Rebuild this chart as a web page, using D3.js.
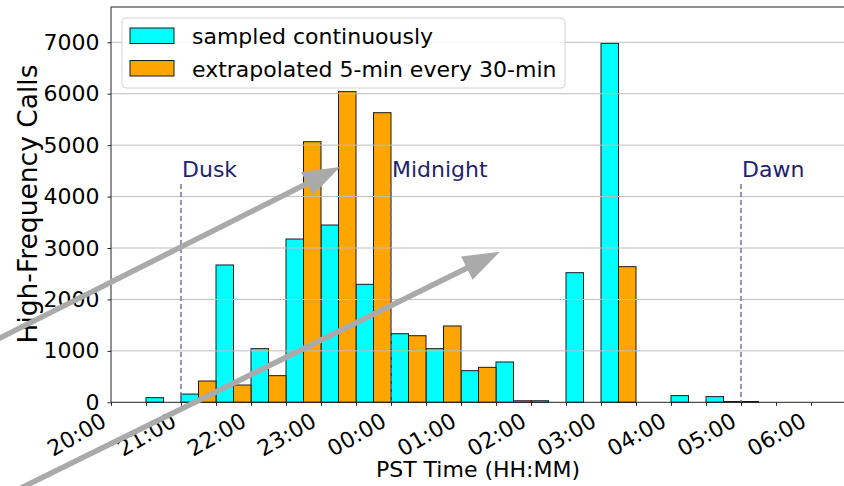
<!DOCTYPE html>
<html>
<head>
<meta charset="utf-8">
<script src="https://cdn.jsdelivr.net/npm/d3@7"></script>
<style>
  html, body { margin: 0; padding: 0; background: #fff; }
  svg { display: block; font-family: "DejaVu Sans", sans-serif; }
</style>
</head>
<body>
<svg id="chart" width="844" height="486"></svg>
<script>
// 30-minute bins starting at 20:00 PST (minutes after 20:00)
const binStarts = d3.range(0, 600, 30);
const binLabels = ["20:00","20:30","21:00","21:30","22:00","22:30","23:00","23:30",
                   "00:00","00:30","01:00","01:30","02:00","02:30","03:00","03:30",
                   "04:00","04:30","05:00","05:30"];
// High-frequency call counts per bin
const sampledContinuously = [0, 90, 160, 2670, 1043, 3175, 3447, 2294, 1334, 1043,
                             615, 784, 30, 2520, 6980, 0, 130, 110, 15, 0];
const extrapolated = [0, 0, 414, 336, 518, 5067, 6040, 5631, 1295, 1484,
                      680, 30, 0, 0, 2637, 0, 0, 15, 0, 0];
const seriesNames = ["sampled continuously", "extrapolated 5-min every 30-min"];
const seriesColors = ["#00ffff", "#ffa500"];

// Hour tick labels
const hourTicks = d3.range(0, 601, 60);
const hourLabels = ["20:00","21:00","22:00","23:00","00:00","01:00","02:00",
                    "03:00","04:00","05:00","06:00"];
const halfHourTicks = d3.range(0, 631, 30);
const yTicks = d3.range(0, 7001, 1000);

// Event markers
const markers = [
  { name: "Dusk", t: 60 },
  { name: "Midnight", t: 240 },
  { name: "Dawn", t: 540 }
];
const markerTop = 4245;

const FS = 22;
const svg = d3.select("#chart");
const mLeft = 111, mTop = 7, mBottom = 402.3, mRight = 870;

const x = d3.scaleLinear().domain([0, 600]).range([mLeft, 811]);
const y = d3.scaleLinear().domain([0, 7686]).range([mBottom, mTop]);

const plot = svg.append("g");

// Bars: sampled on the first half of each bin, extrapolated on the second half
const series = [sampledContinuously, extrapolated];
series.forEach((vals, s) => {
  plot.append("g").selectAll("rect")
    .data(vals.map((v, i) => ({ t: binStarts[i], v })))
    .join("rect")
    .attr("x", d => x(d.t + 15 * s))
    .attr("width", d => x(d.t + 15 * (s + 1)) - x(d.t + 15 * s))
    .attr("y", d => y(d.v))
    .attr("height", d => y(0) - y(d.v))
    .attr("fill", seriesColors[s])
    .attr("stroke", "#1a1a1a")
    .attr("stroke-width", 1);
});

// Horizontal grid
plot.append("g").selectAll("line")
  .data(yTicks.slice(1))
  .join("line")
  .attr("x1", mLeft).attr("x2", mRight)
  .attr("y1", d => y(d)).attr("y2", d => y(d))
  .attr("stroke", "#bdbdbd").attr("stroke-width", 1);

// Dusk / Midnight / Dawn markers
markers.forEach(m => {
  plot.append("line")
    .attr("x1", x(m.t)).attr("x2", x(m.t))
    .attr("y1", y(markerTop)).attr("y2", y(0))
    .attr("stroke", "#7272ad").attr("stroke-width", 1.5)
    .attr("stroke-dasharray", "5,3");
  plot.append("text")
    .attr("x", x(m.t) + 1).attr("y", y(markerTop) - 7)
    .attr("fill", "#1f1f6e").attr("font-size", FS)
    .text(m.name);
});

// Spines
svg.append("line").attr("x1", mLeft).attr("x2", mRight).attr("y1", mTop).attr("y2", mTop)
  .attr("stroke", "#222").attr("stroke-width", 1);
svg.append("line").attr("x1", mLeft).attr("x2", mLeft).attr("y1", mTop).attr("y2", mBottom)
  .attr("stroke", "#222").attr("stroke-width", 1);
svg.append("line").attr("x1", mLeft).attr("x2", mRight).attr("y1", mBottom).attr("y2", mBottom)
  .attr("stroke", "#222").attr("stroke-width", 1);

// Y axis
const yAxis = svg.append("g").attr("transform", `translate(${mLeft},0)`)
  .call(d3.axisLeft(y).tickValues(yTicks).tickSize(3.5).tickPadding(8).tickFormat(d3.format("d")));
yAxis.select(".domain").remove();
yAxis.selectAll("text").attr("font-size", FS).attr("font-family", "DejaVu Sans").attr("fill", "#000");
yAxis.selectAll("line").attr("stroke", "#222");

// X axis: ticks every half hour, labels on the hour
const xAxis = svg.append("g").attr("transform", `translate(0,${mBottom})`)
  .call(d3.axisBottom(x).tickValues(halfHourTicks).tickSize(3.5).tickFormat(""));
xAxis.select(".domain").remove();
xAxis.selectAll("line").attr("stroke", "#222");

svg.append("g").selectAll("text")
  .data(hourTicks)
  .join("text")
  .attr("transform", (d) => `translate(${x(d) - 3},${mBottom + 23}) rotate(-30)`)
  .attr("text-anchor", "end")
  .attr("font-size", FS)
  .attr("fill", "#000")
  .text((d, i) => hourLabels[i]);

// Axis titles
svg.append("text")
  .attr("x", 478).attr("y", 477)
  .attr("text-anchor", "middle").attr("font-size", FS)
  .text("PST Time (HH:MM)");
svg.append("text")
  .attr("transform", `translate(37,204) rotate(-90)`)
  .attr("text-anchor", "middle").attr("font-size", 26.5)
  .text("High-Frequency Calls");

// Legend
const legend = svg.append("g");
legend.append("rect")
  .attr("x", 122).attr("y", 18).attr("width", 443).attr("height", 70)
  .attr("rx", 4).attr("fill", "#fff").attr("fill-opacity", 0.85)
  .attr("stroke", "#d4d4d4");
seriesNames.forEach((name, i) => {
  const cy = 36 + i * 32.5;
  legend.append("rect")
    .attr("x", 130).attr("y", cy - 8).attr("width", 44).attr("height", 15.5)
    .attr("fill", seriesColors[i]).attr("stroke", "#1a1a1a");
  legend.append("text")
    .attr("x", 192).attr("y", cy + 8)
    .attr("font-size", FS).attr("fill", "#000")
    .text(name);
});

// Gray annotation arrows
const arrows = [
  { x1: -10, y1: 343, x2: 340, y2: 167 },
  { x1: 17, y1: 490, x2: 500, y2: 251.7 }
];
arrows.forEach(a => {
  const dx = a.x2 - a.x1, dy = a.y2 - a.y1, len = Math.hypot(dx, dy);
  const ux = dx / len, uy = dy / len, nx = -uy, ny = ux;
  const headLen = 37, headHalf = 13;
  const bx = a.x2 - ux * headLen, by = a.y2 - uy * headLen;
  svg.append("line")
    .attr("x1", a.x1).attr("y1", a.y1).attr("x2", bx + ux * 2).attr("y2", by + uy * 2)
    .attr("stroke", "#aaaaaa").attr("stroke-width", 5.5);
  svg.append("path")
    .attr("d", `M${a.x2},${a.y2}L${bx + nx * headHalf},${by + ny * headHalf}L${bx - nx * headHalf},${by - ny * headHalf}Z`)
    .attr("fill", "#aaaaaa");
});
</script>
</body>
</html>
